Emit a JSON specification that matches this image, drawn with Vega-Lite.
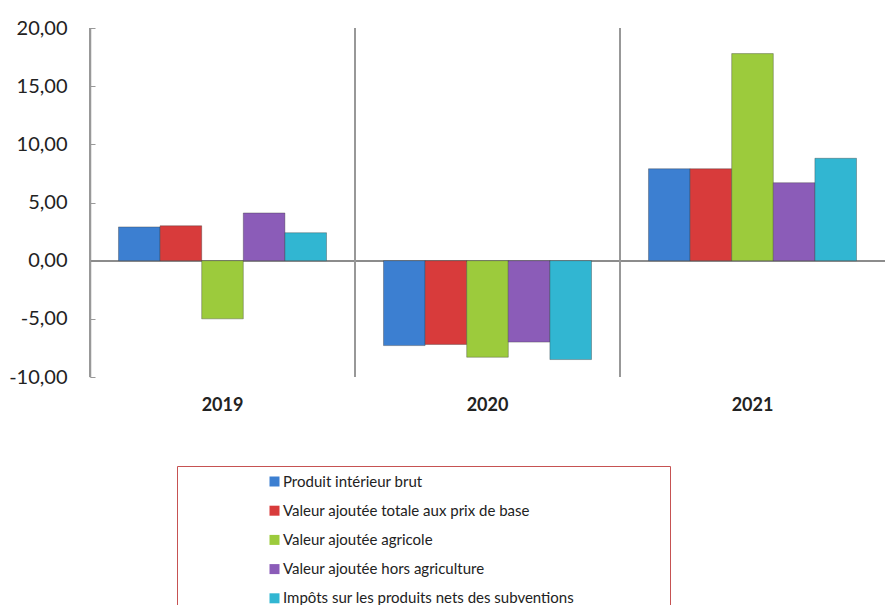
{
  "$schema": "https://vega.github.io/schema/vega-lite/v6.json",
  "autosize": {"type": "none"},
  "width": 795,
  "height": 349,
  "padding": {"left": 90, "top": 28, "right": 3, "bottom": 228},
  "background": "white",
  "config": {
    "view": {"stroke": null},
    "font": "Lato",
    "locale": {"number": {"decimal": ",", "thousands": " ", "grouping": [3], "currency": ["", " €"], "minus": "-"}}
  },
  "data": {
    "values": [
      {"annee": "2019", "serie": "Produit intérieur brut", "valeur": 2.9},
      {"annee": "2019", "serie": "Valeur ajoutée totale aux prix de base", "valeur": 3.0},
      {"annee": "2019", "serie": "Valeur ajoutée agricole", "valeur": -5.0},
      {"annee": "2019", "serie": "Valeur ajoutée hors agriculture", "valeur": 4.1},
      {"annee": "2019", "serie": "Impôts sur les produits nets des subventions", "valeur": 2.4},
      {"annee": "2020", "serie": "Produit intérieur brut", "valeur": -7.3},
      {"annee": "2020", "serie": "Valeur ajoutée totale aux prix de base", "valeur": -7.2},
      {"annee": "2020", "serie": "Valeur ajoutée agricole", "valeur": -8.3},
      {"annee": "2020", "serie": "Valeur ajoutée hors agriculture", "valeur": -7.0},
      {"annee": "2020", "serie": "Impôts sur les produits nets des subventions", "valeur": -8.5},
      {"annee": "2021", "serie": "Produit intérieur brut", "valeur": 7.9},
      {"annee": "2021", "serie": "Valeur ajoutée totale aux prix de base", "valeur": 7.9},
      {"annee": "2021", "serie": "Valeur ajoutée agricole", "valeur": 17.8},
      {"annee": "2021", "serie": "Valeur ajoutée hors agriculture", "valeur": 6.7},
      {"annee": "2021", "serie": "Impôts sur les produits nets des subventions", "valeur": 8.8}
    ]
  },
  "layer": [
    {
      "mark": {"type": "rule", "color": "#8c8c8c", "strokeWidth": 1.5},
      "encoding": {
        "y": {
          "datum": 0, "type": "quantitative",
          "scale": {"domain": [-10, 20], "nice": false, "zero": false},
          "axis": {"title": null, "values": [-10, -5, 0, 5, 10, 15, 20], "format": ".2f", "labelFontSize": 20, "labelFont": "Lato", "labelColor": "#222222", "domainColor": "#999999", "domainWidth": 1.5, "tickColor": "#999999", "tickSize": -5, "labelPadding": 28, "grid": false}
        }
      }
    },
    {
      "mark": {"type": "rule", "color": "#999999", "strokeWidth": 1.5},
      "encoding": {
        "x": {
          "field": "annee", "type": "nominal", "bandPosition": 0,
          "scale": {"paddingInner": 0, "paddingOuter": 0},
          "axis": {"title": null, "labelAngle": 0, "labelFontSize": 18, "labelFontWeight": "bold", "labelColor": "#222222", "labelFont": "Lato", "domain": false, "ticks": false, "grid": false, "labelPadding": 19}
        }
      }
    },
    {
      "mark": {"type": "bar", "stroke": "#333333", "strokeWidth": 0.8, "strokeOpacity": 0.45},
      "encoding": {
        "x": {
          "field": "annee", "type": "nominal",
          "scale": {"paddingInner": 0, "paddingOuter": 0},
          "axis": {"title": null, "labelAngle": 0, "labelFontSize": 18, "labelFontWeight": "bold", "labelColor": "#222222", "labelFont": "Lato", "domain": false, "ticks": false, "grid": false, "labelPadding": 19}
        },
        "xOffset": {
          "field": "serie", "type": "nominal",
          "sort": ["Produit intérieur brut", "Valeur ajoutée totale aux prix de base", "Valeur ajoutée agricole", "Valeur ajoutée hors agriculture", "Impôts sur les produits nets des subventions"],
          "scale": {"paddingInner": 0, "paddingOuter": 0.685}
        },
        "y": {
          "field": "valeur", "type": "quantitative",
          "scale": {"domain": [-10, 20], "nice": false, "zero": false},
          "axis": {"title": null, "values": [-10, -5, 0, 5, 10, 15, 20], "format": ".2f", "labelFontSize": 20, "labelFont": "Lato", "labelColor": "#222222", "domainColor": "#999999", "domainWidth": 1.5, "tickColor": "#999999", "tickSize": -5, "labelPadding": 28, "grid": false}
        },
        "color": {
          "field": "serie", "type": "nominal",
          "sort": ["Produit intérieur brut", "Valeur ajoutée totale aux prix de base", "Valeur ajoutée agricole", "Valeur ajoutée hors agriculture", "Impôts sur les produits nets des subventions"],
          "scale": {
            "domain": ["Produit intérieur brut", "Valeur ajoutée totale aux prix de base", "Valeur ajoutée agricole", "Valeur ajoutée hors agriculture", "Impôts sur les produits nets des subventions"],
            "range": ["#3c7fd1", "#d83b3b", "#9ccb3c", "#8b5cb8", "#31b6d2"]
          },
          "legend": {
            "orient": "none", "legendX": 87, "legendY": 438,
            "title": "\u2800\u2800\u2800\u2800\u2800\u2800\u2800\u2800",
            "titleOrient": "right", "titleFontSize": 14.5, "titlePadding": 0, "titleColor": "white",
            "direction": "vertical",
            "symbolType": "square", "symbolSize": 100, "symbolStrokeWidth": 0,
            "labelFontSize": 15, "labelFont": "Lato", "labelColor": "#222222", "labelLimit": 0,
            "rowPadding": 13.2, "padding": 8, "symbolOffset": 82, "labelOffset": 1,
            "strokeColor": "#c65252", "fillColor": "white"
          }
        }
      }
    }
  ]
}
